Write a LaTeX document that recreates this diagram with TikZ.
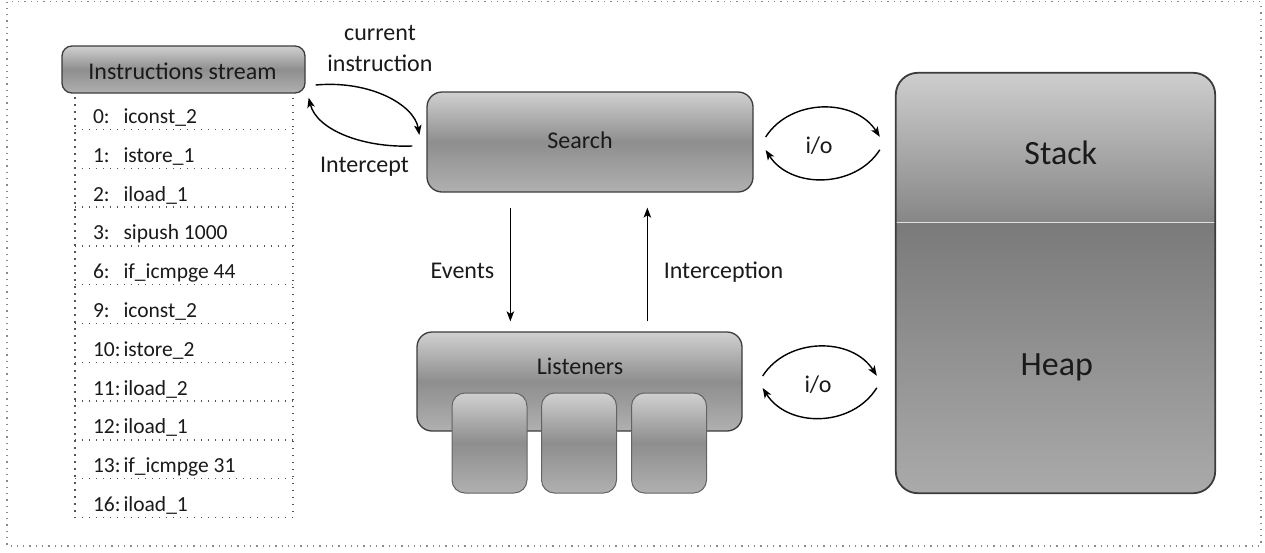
\documentclass[tikz,border=0pt]{standalone}
\usepackage{fontspec}
\setmainfont{Carlito}
\usetikzlibrary{calc,arrows.meta}
\definecolor{txt}{HTML}{1A1A1A}
\definecolor{bord}{HTML}{3C3C3C}
\definecolor{shT}{HTML}{D0D0D0}
\definecolor{shM}{HTML}{8E8E8E}
\definecolor{shB}{HTML}{B0B0B0}
\definecolor{stT}{HTML}{CECECE}
\definecolor{stB}{HTML}{868686}
\definecolor{hpT}{HTML}{7A7A7A}
\definecolor{hpB}{HTML}{AAAAAA}
\definecolor{dots}{HTML}{555555}
\definecolor{frame}{HTML}{8A8A8A}
\begin{document}
\begin{tikzpicture}[x=1pt,y=-1pt,
  gbox/.style={draw=bord, line width=1.3pt, top color=shT, bottom color=shB, middle color=shM, inner sep=0pt},
  smallbox/.style={draw=bord!80, line width=1pt, top color=shT, bottom color=shB, middle color=shM, inner sep=0pt, rounded corners=13pt, minimum width=75, minimum height=100},
  lbl/.style={text=txt, font=\fontsize{24}{29}\selectfont, inner sep=0pt},
  biglbl/.style={text=txt, font=\fontsize{34}{40}\selectfont, inner sep=0pt},
  instr/.style={text=txt, font=\fontsize{21.5}{26}\selectfont, inner sep=0pt},
  row/.style={minimum width=218, minimum height=38.8, inner sep=0pt},
  dotline/.style={draw=dots, line width=1.5pt, dash pattern=on 1.5pt off 5.5pt},
  arr/.style={draw=black, line width=1.4pt, -{Stealth[length=10pt,width=7.5pt,inset=2.5pt]}}
]
\useasboundingbox (0,0) rectangle (1265,552);
% outer dotted frame
\draw[draw=frame, line width=1.3pt, dash pattern=on 1.3pt off 5pt] (7,1.5) rectangle (1261,546);

% instruction list
\foreach \i in {0,...,10} {
  \node[row] (r\i) at (184,{109.9+38.8*\i}) {};
}
\draw[dotline] (r0.north west) rectangle (r10.south east);
\foreach \i in {0,...,9} {
  \draw[dotline] (r\i.south west) -- (r\i.south east);
}
\foreach \i/\n/\t in {0/0:/iconst\_2, 1/1:/istore\_1, 2/2:/iload\_1, 3/3:/sipush 1000, 4/6:/if\_icmpge 44, 5/9:/iconst\_2, 6/10:/istore\_2, 7/11:/iload\_2, 8/12:/iload\_1, 9/13:/if\_icmpge 31, 10/16:/iload\_1} {
  \node[instr, anchor=base west] (t\i) at ($(r\i.south west)+(18,-6)$) {\makebox[30.5pt][l]{\n\hspace{3.5pt}}\t};
}

% instructions stream
\node[gbox, rounded corners=10pt, minimum width=243, minimum height=47] (istream) at (183.5,69.5) {};
\node[lbl, anchor=base] (istreamtxt) at ($(istream.center)+(-1,9.5)$) {Instructions stream};

% search
\node[gbox, rounded corners=15pt, minimum width=326, minimum height=100] (search) at (590,142) {};
\node[lbl, anchor=base] (searchtxt) at ($(search.center)+(-10,6)$) {Search};

% listeners
\node[gbox, rounded corners=15pt, minimum width=325, minimum height=99] (listeners) at (579.5,381.5) {};
\node[lbl, anchor=base] (listenerstxt) at ($(listeners.center)+(0.5,-7.5)$) {Listeners};
\node[smallbox] (l1) at (489.5,443) {};
\node[smallbox] (l2) at (579,443) {};
\node[smallbox] (l3) at (669,443) {};

% memory (stack / heap)
\node[minimum width=319, minimum height=420, inner sep=0pt] (mem) at (1055.5,283) {};
\begin{scope}
  \clip[rounded corners=22pt] (mem.north west) rectangle (mem.south east);
  \shade[top color=stT, bottom color=stB] (mem.north west) rectangle ($(mem.north east)+(0,150)$);
  \shade[top color=hpT, bottom color=hpB] ($(mem.north west)+(0,150)$) rectangle (mem.south east);
  \draw[draw=white!75!gray, line width=1.2pt] ($(mem.north west)+(0,150)$) -- ($(mem.north east)+(0,150)$);
\end{scope}
\draw[draw=bord, line width=1.8pt, rounded corners=22pt] (mem.north west) rectangle (mem.south east);
\node[biglbl, anchor=base] (stacktxt) at ($(mem.north west)+(165,92)$) {Stack};
\node[biglbl, anchor=base] (heaptxt) at ($(mem.north west)+(161,303)$) {Heap};

% arrows between instruction stream and search
\draw[arr] ($(istream.east)+(10,15.5)$) .. controls +(55,-5) and +(-5,-30) .. ($(search.west)+(-7,-7)$);
\draw[arr] ($(search.west)+(-14,4)$) .. controls +(-50,2) and +(8,32) .. ($(istream.south east)+(3,4)$);
\node[lbl, anchor=base] (cur1) at (380,40) {current};
\node[lbl, anchor=base] (cur2) at (380,71) {instruction};
\node[lbl, anchor=base] (intercept) at (364.5,172) {Intercept};

% search <-> memory
\draw[arr] ($(search.east)+(12,-5)$) .. controls +(25,-39) and +(-25,-39) .. ($(mem.north west)+(-16,64)$);
\draw[arr] ($(mem.north west)+(-16,77)$) .. controls +(-25,39) and +(25,39) .. ($(search.east)+(12,8)$);
\node[lbl, anchor=base] (io1) at (819,153) {i/o};

% listeners <-> memory
\draw[arr] ($(listeners.east)+(20,-5.5)$) .. controls +(25,-39) and +(-25,-39) .. ($(mem.north west)+(-19,303)$);
\draw[arr] ($(mem.north west)+(-19,315)$) .. controls +(-25,40) and +(25,40) .. ($(listeners.east)+(20,6.5)$);
\node[lbl, anchor=base] (io2) at (818,392) {i/o};

% events / interception
\draw[arr] ($(search.south west)+(84,15)$) -- ($(listeners.north west)+(94,-10)$);
\draw[arr] ($(listeners.north west)+(231,-10)$) -- ($(search.south west)+(221,15)$);
\node[lbl, anchor=base] (events) at (462.5,278) {Events};
\node[lbl, anchor=base] (interception) at (723.5,278) {Interception};
\end{tikzpicture}
\end{document}
